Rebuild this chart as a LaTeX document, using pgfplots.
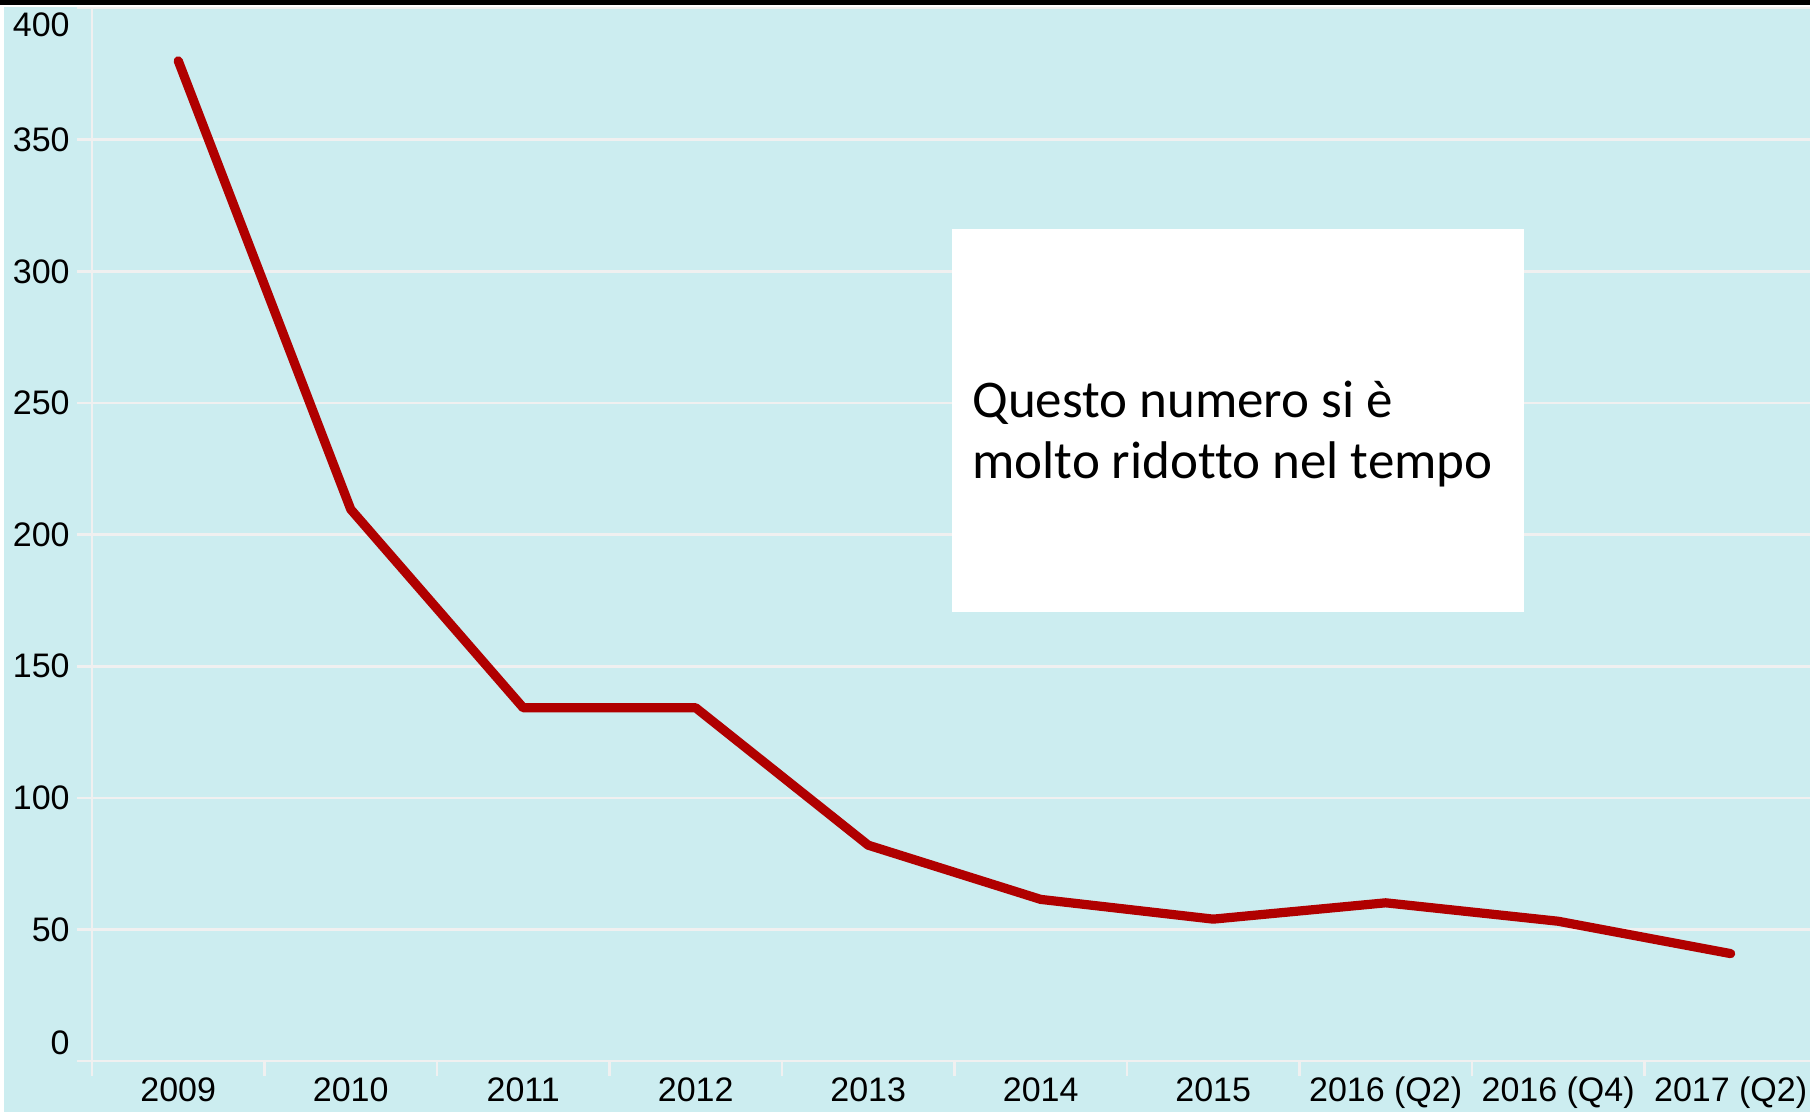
\documentclass[border=0pt]{standalone}
\usepackage{pgfplots}
\pgfplotsset{compat=1.18}
\usepackage{fontspec}
\setmainfont{Liberation Sans}
\newfontfamily\calibri[Ligatures=NoCommon]{Carlito}
\definecolor{bgc}{RGB}{204,237,240}
\definecolor{gridc}{RGB}{240,240,240}
\definecolor{linec}{RGB}{176,0,0}
\begin{document}
\begin{tikzpicture}
\fill[bgc] (0,0) rectangle (905bp,552.5bp);
\fill[white] (0,552.5bp) rectangle (905bp,553.5bp);
\fill[black] (0,553.5bp) rectangle (905bp,556bp);
\fill[white] (0,0) rectangle (2bp,552.5bp);
\path[use as bounding box] (0,0) rectangle (905bp,556bp);
\begin{axis}[
  at={(46bp,25.5bp)}, anchor=south west,
  scale only axis, width=859bp, height=526.4bp,
  xmin=-0.5, xmax=9.46, ymin=0, ymax=400,
  axis x line*=bottom, axis y line*=left,
  axis line style={draw=gridc, line width=1.3bp},
  tick align=outside,
  major tick length=7.5bp,
  tick style={draw=gridc, line width=1.3bp},
  ymajorgrids,
  grid style={draw=gridc, line width=1.3bp},
  ytick={0,50,100,150,200,250,300,350,400},
  yticklabels={\raisebox{3.1bp}[5bp][5bp]{0},50,100,150,200,250,300,350,\raisebox{-14.4bp}[5bp][5bp]{400}},
  yticklabel style={font=\fontsize{17bp}{20bp}\selectfont, inner sep=0pt, anchor=east, xshift=-3.5bp},
  xtick={-0.5,0.5,1.5,2.5,3.5,4.5,5.5,6.5,7.5,8.5},
  xticklabels={,,,,,,,,,},
  extra x ticks={0,1,2,3,4,5,6,7,8,9},
  extra x tick labels={2009,2010,2011,2012,2013,2014,2015,2016 (Q2),2016 (Q4),2017 (Q2)},
  extra x tick style={major tick length=0pt},
  xticklabel style={font=\fontsize{17bp}{20bp}\selectfont, inner sep=0pt, anchor=north, text height=12.2bp, text depth=3bp, yshift=-8bp},
  /pgf/number format/assume math mode=true,
  clip=false,
]
\addplot[color=linec, line width=4.6bp, line cap=round, line join=round] coordinates {
(0,380) (1,209.6) (2,134.2) (3,134.2) (4,82) (5,61.4) (6,53.9) (7,60.1) (8,53.1) (9,40.8)
};
\end{axis}
\fill[white] (476bp,250bp) rectangle (762bp,441.5bp);
\node[anchor=base west, inner sep=0pt, font=\calibri\fontsize{26.5bp}{31.5bp}\selectfont] at (486bp,347bp) {Questo numero si è};
\node[anchor=base west, inner sep=0pt, font=\calibri\fontsize{26.5bp}{31.5bp}\selectfont] at (486bp,316.5bp) {molto ridotto nel tempo};
\end{tikzpicture}
\end{document}
